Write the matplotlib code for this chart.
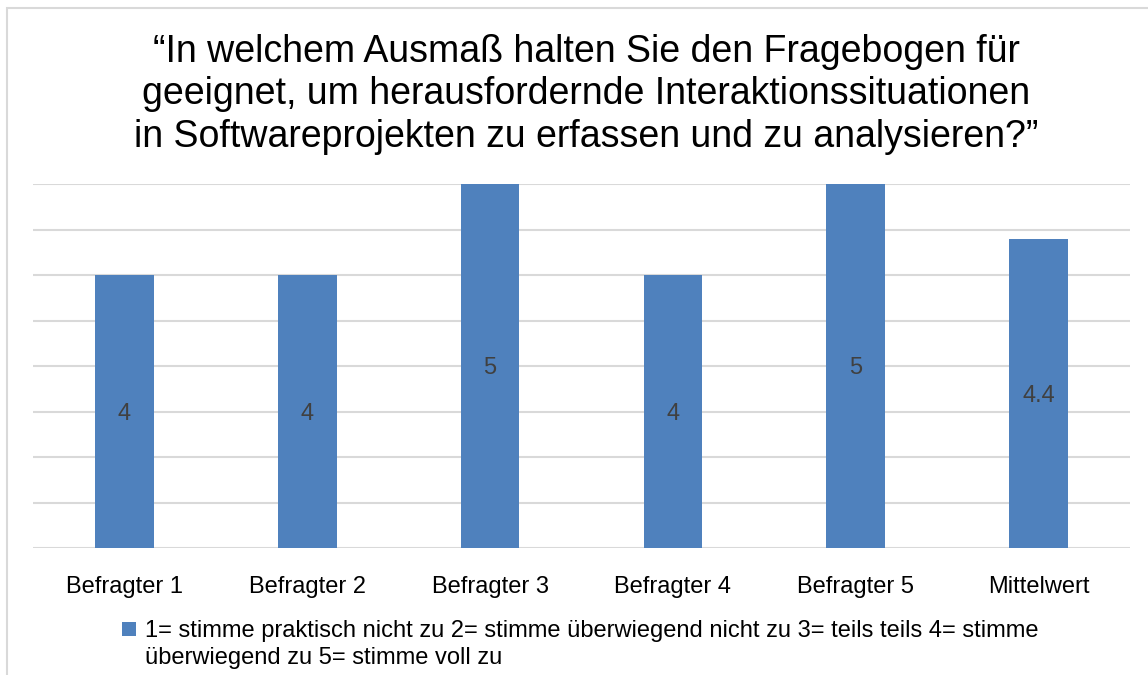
import matplotlib
matplotlib.use("Agg")
import matplotlib.pyplot as plt
import numpy as np
from matplotlib.patches import Rectangle, Patch
from matplotlib.legend_handler import HandlerPatch

plt.rcParams['font.family'] = ['Liberation Sans', 'DejaVu Sans']

categories = ["Befragter 1", "Befragter 2", "Befragter 3", "Befragter 4", "Befragter 5", "Mittelwert"]
values = [4, 4, 5, 4, 5, 4.4]
value_labels = ["4", "4", "5", "4", "5", "4.4"]
title = ("\u201cIn welchem Ausmaß halten Sie den Fragebogen für\n"
         "geeignet, um herausfordernde Interaktionssituationen\n"
         "in Softwareprojekten zu erfassen und zu analysieren?\u201d")
legend_label = ("1= stimme praktisch nicht zu 2= stimme überwiegend nicht zu 3= teils teils 4= stimme\n"
                "überwiegend zu 5= stimme voll zu")
y_min, y_max, y_step = 1, 5, 0.5

bar_color = "#4F81BD"
grid_color = "#D9D9D9"
FS = 17

W, H = 1148, 675
fig = plt.figure(figsize=(W / 100, H / 100), dpi=100)
fig.patch.set_facecolor("white")

# outer chart border
fig.add_artist(Rectangle((7 / W, -0.05), 1.1, 1 - 8 / H + 0.05, transform=fig.transFigure,
                         fill=False, edgecolor=grid_color, linewidth=1.5))

ax = fig.add_axes([33 / W, 1 - 548 / H, (1130 - 33) / W, (548 - 184) / H])
x = range(len(categories))
ax.bar(x, [v - y_min for v in values], bottom=y_min, width=0.32, color=bar_color, zorder=3)
ax.set_xlim(-0.5, len(categories) - 0.5)
ax.set_ylim(y_min, y_max)
ax.set_yticks(np.arange(y_min, y_max + 0.01, y_step))
ax.yaxis.grid(True, color=grid_color, linewidth=1.5, zorder=0)
ax.tick_params(axis="y", left=False, labelleft=False)
ax.tick_params(axis="x", bottom=False, labelsize=FS, pad=17, colors="#000000")
ax.set_xticks(list(x))
ax.set_xticklabels(categories)
for s in ax.spines.values():
    s.set_visible(False)

for i, (v, lab) in enumerate(zip(values, value_labels)):
    ax.text(i, (y_min + v) / 2, lab, ha="center", va="center_baseline", fontsize=FS,
            color="#404040", zorder=4)

fig.text(586 / W, 1 - 94.5 / H, title, ha="center", va="center", fontsize=27, color="#000000",
         linespacing=1.22)


class TopSquare(HandlerPatch):
    def create_artists(self, legend, orig_handle, xdescent, ydescent, width, height, fontsize, trans):
        side = width
        p = Rectangle((-xdescent, -ydescent + 0.68 * fontsize + (height - side) / 2), side, side * 0.93,
                      facecolor=orig_handle.get_facecolor(), edgecolor="none", transform=trans)
        return [p]


leg = fig.legend(handles=[Patch(facecolor=bar_color)], labels=[legend_label],
                 loc="upper left", bbox_to_anchor=(122 / W, 1 - 620 / H), frameon=False,
                 fontsize=FS, handlelength=0.6, handleheight=0.6, handletextpad=0.38,
                 borderaxespad=0, borderpad=0, handler_map={Patch: TopSquare()})
for t in leg.get_texts():
    t.set_linespacing(1.28)

fig.savefig("out.png", dpi=100, facecolor="white")
